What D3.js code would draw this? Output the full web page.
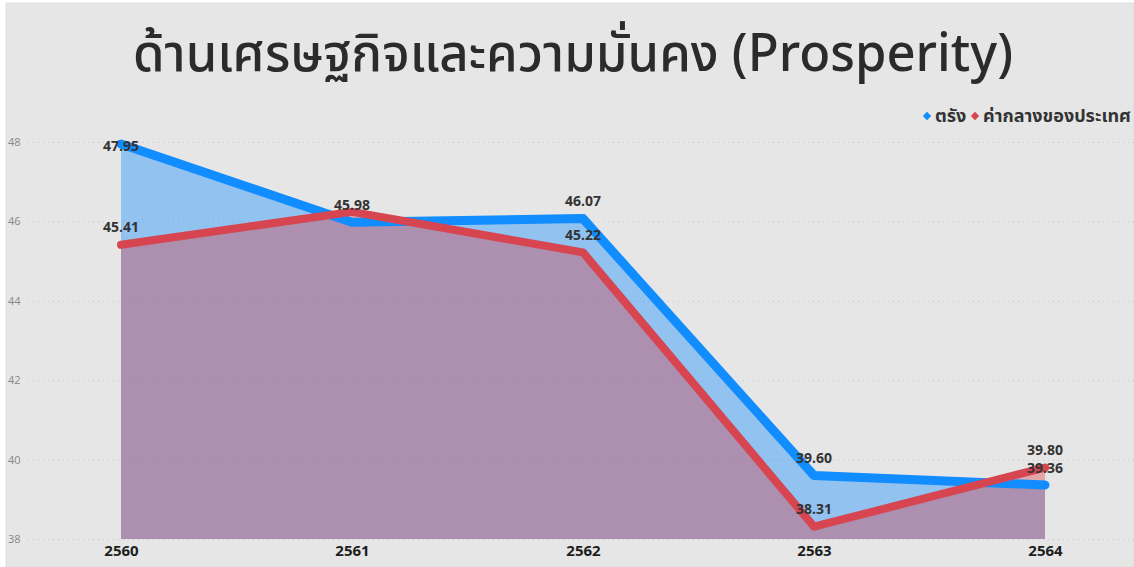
<!DOCTYPE html>
<html>
<head>
<meta charset="utf-8">
<script src="https://cdnjs.cloudflare.com/ajax/libs/d3/7.8.5/d3.min.js"></script>
<style>
  body { margin: 0; background: #fff; }
  svg { display: block; }
  .tick text { font-family: "Open Sans", "Noto Sans", sans-serif; }
</style>
</head>
<body>
<div class="chart"></div>
<script>
// data
var years = ["2560", "2561", "2562", "2563", "2564"];
var trangValues = [47.95, 45.98, 46.07, 39.60, 39.36];
var nationValues = [45.41, 46.24, 45.22, 38.31, 39.80];
var nationLabelShown = [true, false, true, true, true]; // 2561 label hidden (overlaps)
var yTicks = [38, 40, 42, 44, 46, 48];
var seriesNames = ["ตรัง", "ค่ากลางของประเทศ"];

var svgWidth = 1134;
var svgHeight = 567;
var blue = "#118dff";
var red = "#d64550";

var svg = d3.select(".chart")
  .append("svg")
  .attr("width", svgWidth)
  .attr("height", svgHeight);

// grey panel
svg.append("rect")
  .attr("x", 6).attr("y", 3)
  .attr("width", svgWidth - 6).attr("height", svgHeight - 3)
  .attr("fill", "#e6e6e6")
  .attr("stroke", "#d6d6d6")
  .attr("stroke-width", 0.6);

// title
svg.append("text")
  .attr("x", 573)
  .attr("y", 71)
  .attr("text-anchor", "middle")
  .attr("font-family", "'Noto Sans', 'Noto Sans Thai', 'Liberation Sans', sans-serif")
  .attr("font-size", 52)
  .attr("font-weight", 500)
  .attr("fill", "#2b2b2b")
  .attr("textLength", 880)
  .attr("lengthAdjust", "spacingAndGlyphs")
  .text("ด้านเศรษฐกิจและความมั่นคง (Prosperity)");

var x = d3.scalePoint()
  .domain(years)
  .range([121, 1045]);

var y = d3.scaleLinear()
  .domain([38, 48])
  .range([539, 142]);

// y axis with dotted grid
var yAxis = svg.append("g")
  .attr("transform", "translate(28,0)")
  .call(d3.axisLeft(y).tickValues(yTicks).tickSize(-(svgWidth - 28)).tickPadding(8));
yAxis.select(".domain").remove();
yAxis.selectAll(".tick line")
  .attr("stroke", "#c8c8c8")
  .attr("stroke-dasharray", "1,4");
yAxis.selectAll(".tick text")
  .attr("text-anchor", "start")
  .attr("x", -20)
  .attr("font-size", 11)
  .attr("fill", "#888");

// x axis
var xAxis = svg.append("g")
  .attr("transform", "translate(0,539)")
  .call(d3.axisBottom(x).tickSize(0).tickPadding(6));
xAxis.select(".domain").remove();
xAxis.selectAll(".tick text")
  .attr("font-size", 15)
  .attr("font-weight", "bold")
  .attr("fill", "#1e1e1e");

var trang = years.map(function(d, i) { return { year: d, value: trangValues[i] }; });
var nation = years.map(function(d, i) { return { year: d, value: nationValues[i], show: nationLabelShown[i] }; });

var area = d3.area()
  .x(d => x(d.year))
  .y0(y(38))
  .y1(d => y(d.value));

var line = d3.line()
  .x(d => x(d.year))
  .y(d => y(d.value));

svg.append("path").datum(trang)
  .attr("d", area)
  .attr("fill", blue)
  .attr("fill-opacity", 0.4);

svg.append("path").datum(nation)
  .attr("d", area)
  .attr("fill", red)
  .attr("fill-opacity", 0.4);

svg.append("path").datum(trang)
  .attr("d", line)
  .attr("fill", "none")
  .attr("stroke", blue)
  .attr("stroke-width", 9)
  .attr("stroke-linecap", "round")
  .attr("stroke-linejoin", "round");

svg.append("path").datum(nation)
  .attr("d", line)
  .attr("fill", "none")
  .attr("stroke", red)
  .attr("stroke-width", 8)
  .attr("stroke-linecap", "round")
  .attr("stroke-linejoin", "round");

// data labels
function labelY(v) {
  return Math.max(y(v) - 17.5, 146) + 5;
}

function addLabels(data) {
  svg.append("g").selectAll("text")
    .data(data)
    .enter()
    .append("text")
    .attr("x", d => x(d.year))
    .attr("y", d => labelY(d.value))
    .attr("text-anchor", "middle")
    .attr("font-family", "'Open Sans', 'Noto Sans', sans-serif")
    .attr("font-size", 14)
    .attr("font-weight", "bold")
    .attr("fill", "#333")
    .text(d => d.value.toFixed(2));
}
addLabels(trang);
addLabels(nation.filter(d => d.show));

// legend
var legend = svg.append("g")
  .attr("font-family", "'Noto Sans', 'Noto Sans Thai', sans-serif")
  .attr("font-size", 18)
  .attr("font-weight", "bold")
  .attr("fill", "#333");

var legendX = [927, 975];
seriesNames.forEach(function(name, i) {
  legend.append("path")
    .attr("d", d3.symbol(d3.symbolDiamond2, 45)())
    .attr("transform", `translate(${legendX[i]},116)`)
    .attr("fill", i === 0 ? blue : red);
  legend.append("text")
    .attr("x", legendX[i] + 8)
    .attr("y", 122)
    .text(name);
});
</script>
</body>
</html>
